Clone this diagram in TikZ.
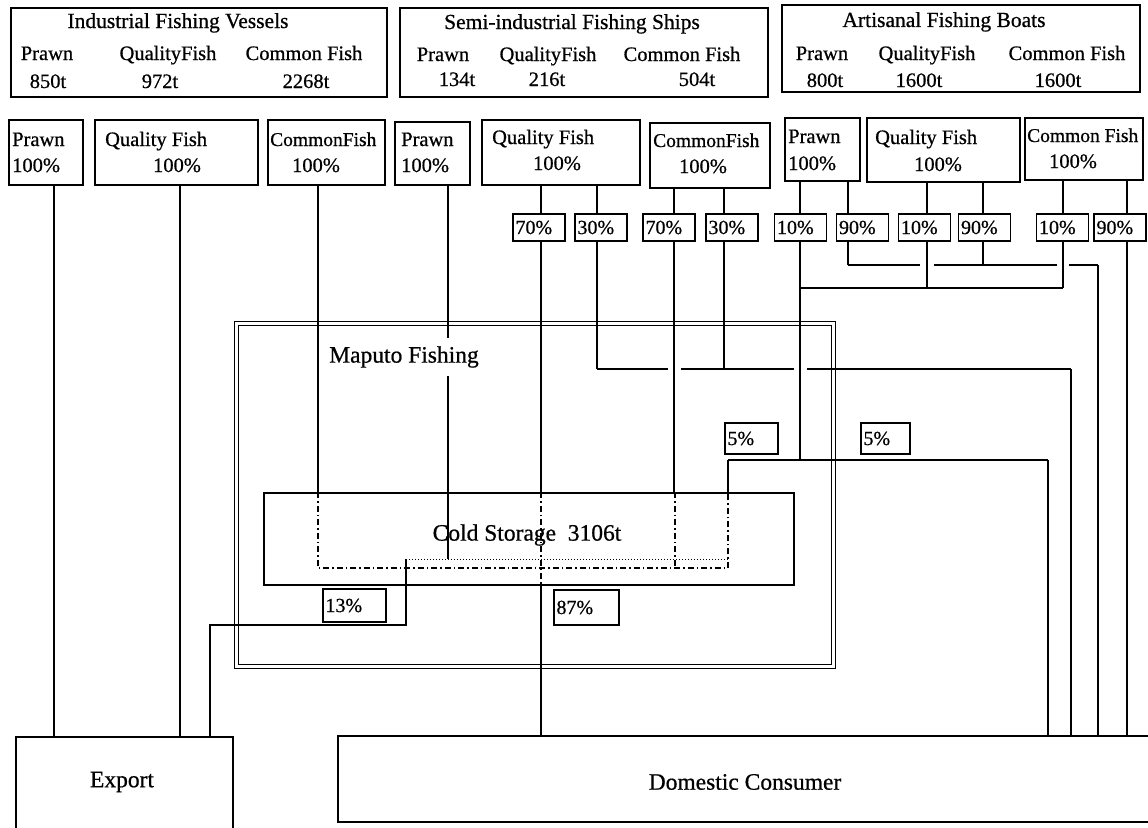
\documentclass[tikz,border=0pt]{standalone}
\usepackage{fontspec}
\setmainfont{Liberation Serif}[FakeBold=0.7]
\begin{document}
\begin{tikzpicture}[x=1pt,y=-1pt,
  box/.style={draw,line width=1.5pt,inner sep=0pt},
  pct/.style={draw,line width=1.4pt,inner xsep=2.5pt,inner ysep=0pt,minimum height=27pt,align=left,font=\fontsize{20}{20}\selectfont},
  txt/.style={inner sep=0pt,font=\fontsize{20.5}{20}\selectfont},
  big/.style={inner sep=0pt,font=\fontsize{23.5}{24}\selectfont},
  flow/.style={line width=2.4pt},
  link/.style={line width=1.4pt},
  dd/.style={line width=1.8pt,dash pattern=on 6pt off 3pt on 1.5pt off 3pt},
  fine/.style={line width=1pt,dotted}]
\useasboundingbox (0,0) rectangle (1148,827);
\clip (0,0) rectangle (1148,827);
\node[draw,double,line width=1.5pt,double distance=2.2pt,minimum width=597pt,minimum height=343pt,inner sep=0pt] (maputo) at (535,495) {};
\node[box,minimum width=376pt,minimum height=89pt] (ind) at (199,52.5) {};
\node[box,minimum width=368pt,minimum height=89pt] (semi) at (584,52.5) {};
\node[box,minimum width=358pt,minimum height=87pt] (art) at (961,48.5) {};
\node[txt,anchor=base,font=\fontsize{21.5}{22}\selectfont] (indT) at (178,28) {Industrial Fishing Vessels};
\node[txt,anchor=base,font=\fontsize{21.5}{22}\selectfont] (semiT) at (572,29) {Semi-industrial Fishing Ships};
\node[txt,anchor=base,font=\fontsize{21.5}{22}\selectfont] (artT) at (944,27) {Artisanal Fishing Boats};
\foreach \x/\n/\y/\v [count=\i] in {47/Prawn/48/850t,168/QualityFish/160/972t,304/Common Fish/306/2268t}
{\node[txt,anchor=base] (indH\i) at (\x,60) {\n}; \node[txt,anchor=base] (indV\i) at (\y,88) {\v};}
\foreach \x/\n/\y/\v [count=\i] in {443/Prawn/457/134t,548/QualityFish/547/216t,682/Common Fish/697/504t}
{\node[txt,anchor=base] (semiH\i) at (\x,61) {\n}; \node[txt,anchor=base] (semiV\i) at (\y,86) {\v};}
\foreach \x/\n/\y/\v [count=\i] in {822/Prawn/825/800t,927/QualityFish/919/1600t,1067/Common Fish/1058/1600t}
{\node[txt,anchor=base] (artH\i) at (\x,60) {\n}; \node[txt,anchor=base] (artV\i) at (\y,87) {\v};}
\node[box,minimum width=74pt,minimum height=65pt] (iP) at (46,152.5) {};
\node[box,minimum width=163pt,minimum height=65pt] (iQ) at (176.5,152.5) {};
\node[box,minimum width=117pt,minimum height=65pt] (iC) at (326.5,152.5) {};
\node[box,minimum width=75pt,minimum height=63pt] (sP) at (432.5,153.5) {};
\node[box,minimum width=158pt,minimum height=65pt] (sQ) at (561,152.5) {};
\node[box,minimum width=120pt,minimum height=65pt] (sC) at (710,155.5) {};
\node[box,minimum width=75pt,minimum height=63pt] (aP) at (822.5,149.5) {};
\node[box,minimum width=153pt,minimum height=64pt] (aQ) at (943.5,150) {};
\node[box,minimum width=118pt,minimum height=62pt] (aC) at (1084,149) {};
\node[txt,anchor=base west] (iPt) at (12,146) {Prawn};
\node[txt,anchor=base west] (iPv) at (12,172) {100\%};
\node[txt,anchor=base west] (iQt) at (105,146) {Quality Fish};
\node[txt,anchor=base] (iQv) at (177,172) {100\%};
\node[txt,anchor=base west,font=\fontsize{19.5}{20}\selectfont] (iCt) at (270,146) {CommonFish};
\node[txt,anchor=base] (iCv) at (316,172) {100\%};
\node[txt,anchor=base west] (sPt) at (401,146) {Prawn};
\node[txt,anchor=base west] (sPv) at (401,172) {100\%};
\node[txt,anchor=base west] (sQt) at (492,144) {Quality Fish};
\node[txt,anchor=base] (sQv) at (557,170) {100\%};
\node[txt,anchor=base west,font=\fontsize{19.5}{20}\selectfont] (sCt) at (653,147) {CommonFish};
\node[txt,anchor=base] (sCv) at (703,173) {100\%};
\node[txt,anchor=base west] (aPt) at (788,143) {Prawn};
\node[txt,anchor=base west] (aPv) at (788,170) {100\%};
\node[txt,anchor=base west] (aQt) at (875,144) {Quality Fish};
\node[txt,anchor=base] (aQv) at (938,171) {100\%};
\node[txt,anchor=base west,font=\fontsize{19.5}{20}\selectfont] (aCt) at (1027,142) {Common Fish};
\node[txt,anchor=base] (aCv) at (1073,168) {100\%};
\foreach \n/\x/\t in {s1/539/70,s2/601/30,s3/669/70,s4/732/30,a1/800.5/10,a2/862.5/90,a3/924.5/10,a4/984.5/90,a5/1062.5/10,a6/1120/90}
\node[pct,text width=47pt] (\n) at (\x,227.5) {\t\%};
\node[box,minimum width=530pt,minimum height=92pt] (cold) at (529,539) {};
\node[pct,text width=48pt,minimum height=31pt] (p5a) at (751.5,438.5) {5\%};
\node[pct,text width=44pt,minimum height=31pt] (p5b) at (885.5,438.5) {5\%};
\node[pct,text width=58pt,minimum height=33pt] (p13) at (354.5,605.5) {13\%};
\node[pct,text width=60pt,minimum height=35pt] (p87) at (586.5,607.5) {87\%};
\node[box,minimum width=217pt,minimum height=100pt] (expo) at (124.5,787) {};
\node[box,minimum width=830pt,minimum height=86pt] (dom) at (753,779) {};
\node[big] (expoT) at (122,782) {Export};
\node[big] (domT) at (745,782) {Domestic Consumer};
\coordinate (csL) at (318,568);
\coordinate (csR) at (728,568);
\coordinate (dotL) at (406,559);
\coordinate (dotR) at (728,559);
\foreach \x/\a/\b in {541/sQ/s1,597/sQ/s2,674/sC/s3,724/sC/s4,800/aP/a1,848/aP/a2,927/aQ/a3,983/aQ/a4,1063/aC/a5,1127/aC/a6}
\draw[flow] (\x,0 |- \a.south) -- (\x,0 |- \b.north);
\draw[flow] (54,0 |- iP.south) -- (54,0 |- expo.north);
\draw[flow] (180,0 |- iQ.south) -- (180,0 |- expo.north);
\draw[flow] (318,0 |- iC.south) -- (318,0 |- cold.north);
\draw[flow] (448,0 |- sP.south) -- (448,0 |- dotL);
\draw[flow] (541,0 |- s1.south) -- (541,0 |- cold.north);
\draw[flow] (674,0 |- s3.south) -- (674,0 |- cold.north);
\draw[flow] (597,0 |- s2.south) -- (597,369);
\draw[flow] (724,0 |- s4.south) -- (724,369);
\draw[link] (597,369) -- (668,369) (681,369) -- (794,369) (807,369) -- (1071,369);
\draw[flow] (1071,369) -- (1071,0 |- dom.north);
\draw[flow] (800,0 |- a1.south) -- (800,460);
\draw[flow] (927,0 |- a3.south) -- (927,288);
\draw[flow] (1063,0 |- a5.south) -- (1063,288);
\draw[link] (800,288) -- (1063,288);
\draw[flow] (848,0 |- a2.south) -- (848,265);
\draw[flow] (983,0 |- a4.south) -- (983,265);
\draw[link] (848,265) -- (920,265) (934,265) -- (1057,265) (1069,265) -- (1098,265);
\draw[flow] (1098,265) -- (1098,0 |- dom.north);
\draw[flow] (1127,0 |- a6.south) -- (1127,0 |- dom.north);
\draw[link] (728,460) -- (1048,460);
\draw[flow] (728,460) -- (728,0 |- cold.north);
\draw[flow] (1048,460) -- (1048,0 |- dom.north);
\draw[dd] (318,0 |- cold.north) -- (csL) -- (csR) -- (728,0 |- cold.north);
\draw[dd] (541,0 |- cold.north) -- (541,0 |- cold.south);
\draw[dd] (675,0 |- cold.north) -- (675,0 |- csR);
\draw[fine] (dotL) -- (dotR);
\draw[link] (dotL) -- (406,625) -- (210,625) -- (210,0 |- expo.north);
\draw[link] (541,0 |- cold.south) -- (541,0 |- dom.north);
\node[big,fill=white,inner xsep=2pt,inner ysep=8pt] (mapT) at (404,357) {Maputo Fishing};
\node[big] (coldT) at (527,535) {Cold Storage~ 3106t};
\end{tikzpicture}
\end{document}
